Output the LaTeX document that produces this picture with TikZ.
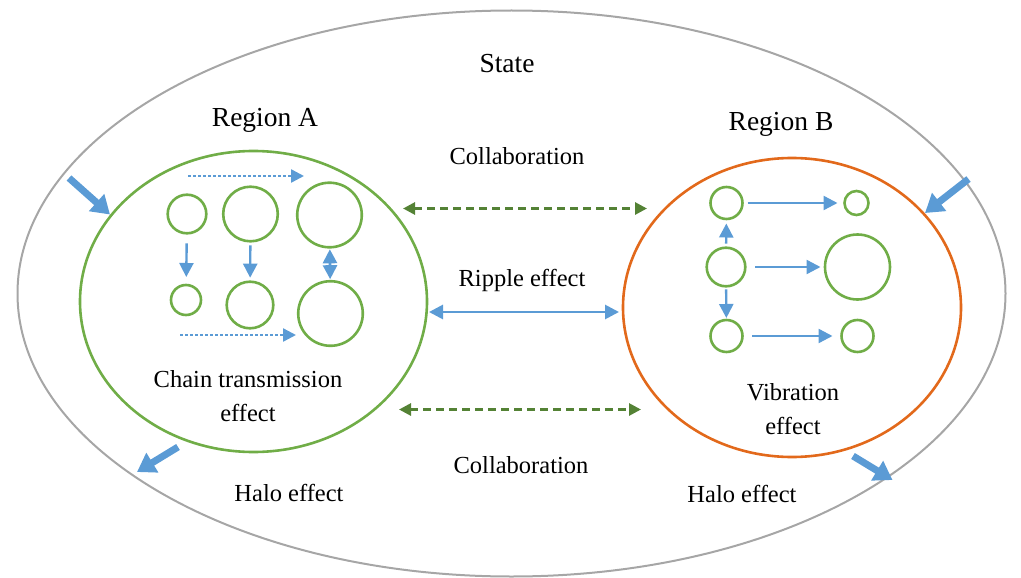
\documentclass[tikz,border=0pt]{standalone}
\usepackage{fontspec}
\setmainfont{Liberation Serif}
\usetikzlibrary{arrows.meta}
\definecolor{grayline}{HTML}{A6A6A6}
\definecolor{leaf}{HTML}{70AD47}
\definecolor{darkleaf}{HTML}{548235}
\definecolor{sky}{HTML}{5B9BD5}
\definecolor{rust}{HTML}{E2691B}
\begin{document}
\begin{tikzpicture}[x=1pt,y=-1pt,
  lbl/.style={font=\fontsize{24.5}{30}\selectfont, inner sep=0pt, align=center},
  biglbl/.style={font=\fontsize{27.5}{33}\selectfont, inner sep=0pt},
  circ/.style={circle, draw=leaf, line width=2.6pt, inner sep=0pt, outer sep=0pt},
  thin/.style={draw=sky, line width=2.4pt, -{Triangle[length=14pt,width=14pt]}},
  dotline/.style={draw=sky, line width=2.4pt, dash pattern=on 3pt off 2pt, -{Triangle[length=13pt,width=13pt]}},
  twoway/.style={draw=sky, line width=2.8pt, {Triangle[length=14pt,width=14pt]}-{Triangle[length=14pt,width=14pt]}},
  collab/.style={draw=darkleaf, line width=2.8pt, dash pattern=on 8pt off 5pt, {Triangle[length=12pt,width=12pt]}-{Triangle[length=12pt,width=12pt]}},
  thick/.style={draw=sky, line width=7pt, -{Triangle[length=18pt,width=22pt]}}]
\useasboundingbox (0,0) rectangle (1021,578);

% outer state boundary and the two regions
\draw[grayline, line width=2pt] (511.5,293.5) ellipse [x radius=494, y radius=283];
\draw[leaf, line width=2.6pt] (253.5,301.5) ellipse [x radius=173.5, y radius=150.5];
\draw[rust, line width=2.6pt] (792,307.5) ellipse [x radius=169, y radius=149.5];

% labels
\node[biglbl] (state) at (507,64) {State};
\node[biglbl] (rega) at (265,120) {Region A};
\node[biglbl] (regb) at (781,124) {Region B};
\node[lbl] (colt) at (517,156) {Collaboration};
\node[lbl] (ripple) at (522,280) {Ripple effect};
\node[lbl] (colb) at (521,465) {Collaboration};
\node[lbl] (chain) at (248,396) {Chain transmission\\[4pt]effect};
\node[lbl] (vib) at (793,409) {Vibration\\[4pt]effect};
\node[lbl] (haloa) at (289,493) {Halo effect};
\node[lbl] (halob) at (742,494) {Halo effect};

% region A: chain transmission
\node[circ, minimum size=38.6pt] (a1) at (187,214) {};
\node[circ, minimum size=54.6pt] (a2) at (250.5,214) {};
\node[circ, minimum size=64.6pt] (a3) at (329.5,215) {};
\node[circ, minimum size=30pt]   (a4) at (186,300) {};
\node[circ, minimum size=46.6pt] (a5) at (250,305) {};
\node[circ, minimum size=64.6pt] (a6) at (330.5,313.5) {};
\draw[thin, shorten <=10pt, shorten >=8pt] (a1) -- (a4);
\draw[thin, shorten <=4pt, shorten >=4pt] (a2) -- (a5);
\draw[twoway, shorten <=2pt, shorten >=2pt] (a3) -- (a6);
\coordinate (dt1) at (188,176);
\coordinate (dt2) at (304,176);
\coordinate (db1) at (180,335);
\coordinate (db2) at (296,335);
\draw[dotline] (dt1) -- (dt2);
\draw[dotline] (db1) -- (db2);

% region B: vibration
\node[circ, minimum size=32pt]   (b1) at (726.5,203) {};
\node[circ, minimum size=24pt]   (b2) at (856.5,203) {};
\node[circ, minimum size=38.6pt] (b3) at (726,267) {};
\node[circ, minimum size=65pt]   (b4) at (857.5,267) {};
\node[circ, minimum size=32pt]   (b5) at (726.5,336) {};
\node[circ, minimum size=32pt]   (b6) at (857.5,336) {};
\draw[thin, shorten <=5pt, shorten >=7pt] (b1) -- (b2);
\draw[thin, shorten <=10pt, shorten >=4.5pt] (b3) -- (b4);
\draw[thin, shorten <=9.5pt, shorten >=9pt] (b5) -- (b6);
\draw[thin, shorten <=4pt, shorten >=4.5pt] (b3) -- (b1);
\draw[thin, shorten <=3pt, shorten >=2pt] (b3) -- (b5);

% links between the regions
\coordinate (ct1) at (403,208.5);
\coordinate (ct2) at (647,208.5);
\coordinate (rp1) at (429,312);
\coordinate (rp2) at (619,312);
\coordinate (cb1) at (399,409.5);
\coordinate (cb2) at (641,409.5);
\draw[collab] (ct1) -- (ct2);
\draw[twoway] (rp1) -- (rp2);
\draw[collab] (cb1) -- (cb2);

% halo arrows across the boundary
\coordinate (ha1) at (69,178);
\coordinate (ha2) at (110,214.5);
\coordinate (hb1) at (968.5,179);
\coordinate (hb2) at (925,213);
\coordinate (hc1) at (178,447);
\coordinate (hc2) at (137,472);
\coordinate (hd1) at (853,456);
\coordinate (hd2) at (892.5,480);
\draw[thick] (ha1) -- (ha2);
\draw[thick] (hb1) -- (hb2);
\draw[thick] (hc1) -- (hc2);
\draw[thick] (hd1) -- (hd2);
\end{tikzpicture}
\end{document}
